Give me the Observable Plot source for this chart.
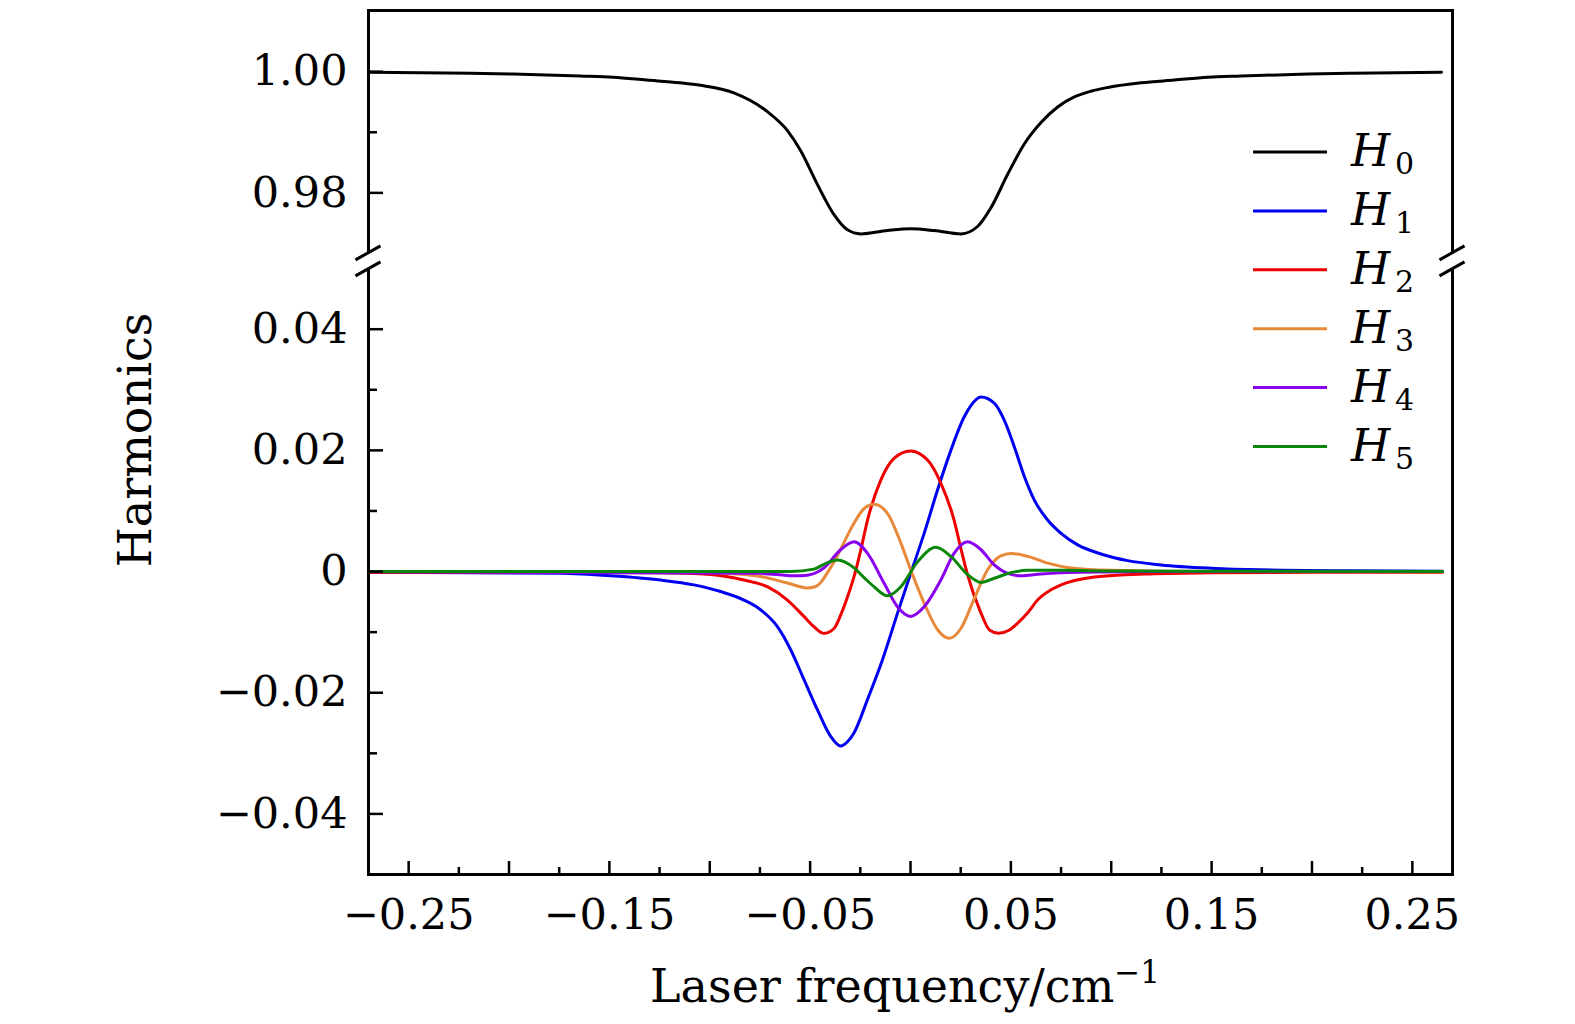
<!DOCTYPE html>
<html>
<head>
<meta charset="utf-8">
<script src="https://cdn.jsdelivr.net/npm/d3@7"></script>
<script src="https://cdn.jsdelivr.net/npm/@observablehq/plot@0.6"></script>
<style>
  html, body { margin: 0; padding: 0; background: #fff; }
  #chart { width: 1575px; height: 1024px; }
</style>
</head>
<body>
<div id="chart"></div>
<script>
// ---------- data ----------
const seriesNames = ["H0", "H1", "H2", "H3", "H4", "H5"];
const seriesColors = ["#000000", "#0000f0", "#ee0000", "#e8883a", "#8800ee", "#0a860a"];

const h0X = [-0.27, -0.2312, -0.198, -0.1646, -0.1481, -0.1315, -0.1149, -0.1046, -0.088, -0.0713, -0.0613, -0.0547, -0.0464, -0.0381, -0.0314, -0.0248, -0.0115, 0, 0.0118, 0.0251, 0.0334, 0.04, 0.0484, 0.0567, 0.065, 0.0733, 0.0816, 0.0899, 0.0983, 0.1149, 0.1315, 0.1481, 0.1646, 0.198, 0.2312, 0.2645];
const h0Y = [0.99992, 0.99978, 0.99962, 0.99928, 0.99907, 0.99862, 0.99817, 0.99775, 0.99650, 0.99340, 0.99028, 0.98695, 0.98140, 0.97640, 0.97390, 0.97323, 0.97378, 0.97407, 0.97378, 0.97323, 0.97445, 0.97750, 0.98307, 0.98807, 0.99160, 0.99417, 0.99583, 0.99678, 0.99740, 0.99817, 0.99862, 0.99907, 0.99928, 0.99962, 0.99978, 0.99990];

const h1X = [-0.27, -0.22, -0.1744, -0.1495, -0.1245, -0.1079, -0.0946, -0.083, -0.0747, -0.0663, -0.0597, -0.0531, -0.0464, -0.0398, -0.0348, -0.0314, -0.0281, -0.0214, -0.014, -0.0065, 0, 0.0068, 0.0135, 0.0201, 0.0267, 0.0301, 0.0351, 0.0417, 0.0467, 0.0517, 0.0567, 0.0617, 0.0683, 0.075, 0.0833, 0.0949, 0.1082, 0.1248, 0.1498, 0.1747, 0.22, 0.265];
const h1Y = [-0.0001, -0.0002, -0.0003, -0.0007, -0.0014, -0.0022, -0.0033, -0.0047, -0.0063, -0.0091, -0.0129, -0.0178, -0.0228, -0.0272, -0.0288, -0.0281, -0.0266, -0.0211, -0.0146, -0.0069, -0.0004, 0.0063, 0.0135, 0.0200, 0.0255, 0.0274, 0.0288, 0.0278, 0.0250, 0.0206, 0.0157, 0.0118, 0.0085, 0.0063, 0.0044, 0.0029, 0.0018, 0.0011, 0.00055, 0.00028, 0.00012, 0.00005];

const h2X = [-0.27, -0.2, -0.1245, -0.0996, -0.083, -0.0713, -0.0613, -0.0531, -0.0481, -0.0431, -0.0381, -0.0348, -0.0314, -0.0281, -0.0248, -0.0214, -0.0148, -0.0082, 0, 0.0085, 0.0151, 0.0217, 0.0251, 0.0284, 0.0348, 0.0395, 0.0438, 0.049, 0.0534, 0.0584, 0.0633, 0.07, 0.075, 0.0916, 0.1165, 0.1498, 0.2, 0.265];
const h2Y = [-0.0001, -0.0001, -0.0002, -0.0005, -0.0014, -0.0025, -0.0047, -0.0074, -0.0091, -0.0102, -0.0094, -0.0072, -0.0042, -0.0008, 0.0035, 0.0085, 0.0151, 0.0187, 0.0199, 0.0184, 0.0146, 0.0085, 0.0038, -0.0005, -0.0066, -0.0097, -0.0102, -0.0097, -0.0085, -0.0068, -0.0047, -0.0030, -0.0022, -0.0009, -0.0004, -0.0002, -0.0001, -0.0001];

const h3X = [-0.27, -0.12, -0.0913, -0.0747, -0.0613, -0.0514, -0.0475, -0.0447, -0.0414, -0.0381, -0.0331, -0.0298, -0.0231, -0.0182, -0.0115, -0.0048, 0.0001, 0.0068, 0.0135, 0.0193, 0.0251, 0.0317, 0.0384, 0.045, 0.05, 0.0584, 0.0683, 0.08, 0.1, 0.15, 0.265];
const h3Y = [0, 0, -0.0003, -0.0008, -0.0019, -0.0027, -0.0025, -0.0018, -0.0002, 0.0016, 0.0048, 0.0070, 0.0104, 0.0111, 0.0096, 0.0047, 0.0003, -0.0052, -0.0096, -0.0110, -0.0094, -0.0045, 0.0003, 0.0026, 0.0030, 0.0025, 0.0014, 0.0006, 0.0002, 0, 0];

const h4X = [-0.27, -0.0747, -0.058, -0.0514, -0.0431, -0.0348, -0.0281, -0.0214, -0.0132, -0.0065, 0, 0.0068, 0.0151, 0.0217, 0.0284, 0.0351, 0.0417, 0.0484, 0.055, 0.065, 0.0833, 0.12, 0.265];
const h4Y = [0, -0.0003, -0.0007, -0.0006, 0.0006, 0.0036, 0.0049, 0.0030, -0.0019, -0.0058, -0.0074, -0.0058, -0.0014, 0.0030, 0.0049, 0.0036, 0.0011, -0.0003, -0.0007, -0.0004, -0.0001, 0, 0];

const h5X = [-0.27, -0.0597, -0.0481, -0.0431, -0.0364, -0.0281, -0.0231, -0.0182, -0.0115, -0.0048, 0.0035, 0.0126, 0.0201, 0.0284, 0.0351, 0.0417, 0.05, 0.0584, 0.075, 0.1, 0.265];
const h5Y = [0, 0, 0.0004, 0.0012, 0.0019, 0.0006, -0.0010, -0.0025, -0.0040, -0.0025, 0.0016, 0.0040, 0.0025, -0.0005, -0.0018, -0.0011, -0.0002, 0.0002, 0.0002, 0.0001, 0];

// axis ticks and labels
const xLabelTicks = [-0.25, -0.15, -0.05, 0.05, 0.15, 0.25];
const xMajorTicks = [-0.25, -0.2, -0.15, -0.1, -0.05, 0, 0.05, 0.1, 0.15, 0.2, 0.25];
const xMinorTicks = [-0.225, -0.175, -0.125, -0.075, -0.025, 0.025, 0.075, 0.125, 0.175, 0.225];
const yLowerMajor = [-0.04, -0.02, 0, 0.02, 0.04];
const yLowerMinor = [-0.03, -0.01, 0.01, 0.03];
const yUpperMajor = [0.98, 1.00];
const yUpperMinor = [0.99];
const xTitle = "Laser frequency/cm";
const xTitleSup = "−1";
const yTitle = "Harmonics";

// broken-axis layout: the upper panel (H0) is shifted down by this amount
const upperShift = 0.9175;
const breakAt = 0.0512;

// ---------- build ----------
const W = 1575, H = 1024;
const mL = 368, mR = 123, mT = 10, mB = 150;
const frameW = W - mL - mR, frameH = H - mT - mB;
const font = "DejaVu Serif";

const xs = [h0X, h1X, h2X, h3X, h4X, h5X];
const ys = [h0Y, h1Y, h2Y, h3Y, h4Y, h5Y];
const seriesRows = seriesNames.map((name, s) =>
  xs[s].map((x, i) => ({series: name, x, y: s === 0 ? ys[s][i] - upperShift : ys[s][i]}))
);

const fmt = v => v === 0 ? "0" : (v < 0 ? "−" : "") + Math.abs(v).toFixed(2);
const yLabelRows = [
  ...yLowerMajor.map(v => ({y: v, t: fmt(v)})),
  ...yUpperMajor.map(v => ({y: v - upperShift, t: fmt(v)}))
];
const yMajorPos = yLabelRows.map(d => d.y);
const yMinorPos = [...yLowerMinor, ...yUpperMinor.map(v => v - upperShift)];

const marks = [];
seriesRows.forEach((rows, s) => {
  marks.push(Plot.line(rows, {x: "x", y: "y", stroke: seriesColors[s], strokeWidth: 3, curve: "monotone-x", clip: true}));
});
marks.push(Plot.tickX(xMajorTicks, {x: d => d, insetTop: frameH - 13, stroke: "black", strokeWidth: 2.5}));
marks.push(Plot.tickX(xMinorTicks, {x: d => d, insetTop: frameH - 7, stroke: "black", strokeWidth: 2.5}));
marks.push(Plot.tickY(yMajorPos, {y: d => d, insetRight: frameW - 15, stroke: "black", strokeWidth: 2.5}));
marks.push(Plot.tickY(yMinorPos, {y: d => d, insetRight: frameW - 9, stroke: "black", strokeWidth: 2.5}));
marks.push(Plot.frame({stroke: "black", strokeWidth: 3}));
marks.push(Plot.text(xLabelTicks, {x: d => d, text: d => fmt(d), frameAnchor: "bottom", dy: 24, lineAnchor: "top", fontSize: 43, fill: "black"}));
marks.push(Plot.text(yLabelRows, {y: "y", text: "t", frameAnchor: "left", dx: -21, textAnchor: "end", lineAnchor: "middle", fontSize: 43, fill: "black"}));

const plot = Plot.plot({
  width: W, height: H,
  marginLeft: mL, marginRight: mR, marginTop: mT, marginBottom: mB,
  x: {domain: [-0.27, 0.27], axis: null},
  y: {domain: [-0.05, 0.0926], axis: null},
  style: {fontFamily: font, fontSize: "43px", background: "white", color: "black", overflow: "visible"},
  marks
});
document.getElementById("chart").appendChild(plot);

// ---------- axis break marks, legend, titles ----------
const svg = d3.select(plot);
const xScale = plot.scale("x"), yScale = plot.scale("y");
const yb = yScale.apply(breakAt);
const g = svg.append("g");
[xScale.apply(-0.27), xScale.apply(0.27)].forEach(xp => {
  g.append("line").attr("x1", xp).attr("x2", xp).attr("y1", yb - 8).attr("y2", yb + 8)
    .attr("stroke", "white").attr("stroke-width", 7);
  [-8, 8].forEach(off => {
    g.append("line")
      .attr("x1", xp - 12.5).attr("y1", yb + off + 7)
      .attr("x2", xp + 12.5).attr("y2", yb + off - 7)
      .attr("stroke", "black").attr("stroke-width", 3);
  });
});

const leg = svg.append("g").attr("text-anchor", "start");
const legX0 = 1253, legX1 = 1327, legY0 = 152, legDy = 58.9;
seriesNames.forEach((name, i) => {
  const y = legY0 + i * legDy;
  leg.append("line").attr("x1", legX0).attr("x2", legX1).attr("y1", y).attr("y2", y)
    .attr("stroke", seriesColors[i]).attr("stroke-width", 3);
  const t = leg.append("text").attr("x", 1351).attr("y", y + 14).attr("text-anchor", "start")
    .attr("font-family", font).attr("font-size", 45).attr("fill", "black");
  t.append("tspan").attr("font-style", "italic").text(name[0]);
  t.append("tspan").attr("x", 1395).attr("dy", 8).attr("font-size", 30).text(name.slice(1));
});

const xt = svg.append("text").attr("x", 905).attr("y", 1002).attr("text-anchor", "middle")
  .attr("font-family", font).attr("font-size", 46).attr("fill", "black");
xt.append("tspan").text(xTitle);
xt.append("tspan").attr("dy", -19).attr("font-size", 31).text(xTitleSup);

svg.append("text").attr("transform", "translate(151,440) rotate(-90)").attr("text-anchor", "middle")
  .attr("font-family", font).attr("font-size", 46).attr("fill", "black").text(yTitle);
</script>
</body>
</html>
